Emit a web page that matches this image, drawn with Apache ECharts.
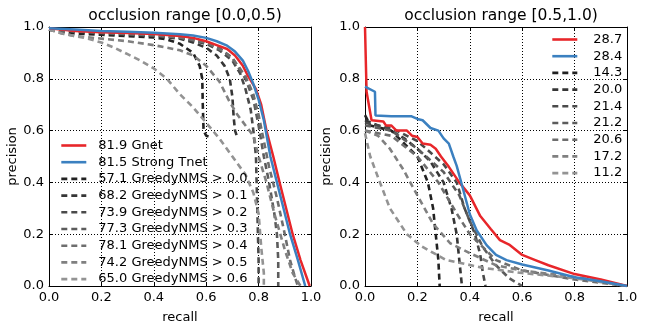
<!DOCTYPE html>
<html>
<head>
<meta charset="utf-8">
<script src="https://cdn.jsdelivr.net/npm/echarts@6/dist/echarts.min.js"></script>
<style>
  html, body { margin: 0; padding: 0; background: #fff; }
  #chart { width: 645px; height: 329px; }
</style>
</head>
<body>
<div id="chart"></div>
<script>
// tick labels shared by both panels
const ticks = [0.0, 0.2, 0.4, 0.6, 0.8, 1.0];
const titles = ["occlusion range [0.0,0.5)", "occlusion range [0.5,1.0)"];

// left panel: occlusion [0.0,0.5)  -> [recall, precision]
const leftNames = ["81.9 Gnet", "81.5 Strong Tnet", "57.1 GreedyNMS > 0.0", "68.2 GreedyNMS > 0.1",
  "73.9 GreedyNMS > 0.2", "77.3 GreedyNMS > 0.3", "78.1 GreedyNMS > 0.4", "74.2 GreedyNMS > 0.5",
  "65.0 GreedyNMS > 0.6"];
const leftGnet = [[0, 0.995], [0.1, 0.985], [0.2, 0.98], [0.3, 0.977], [0.4, 0.973], [0.5, 0.965],
  [0.55, 0.958], [0.6, 0.945], [0.64, 0.93], [0.68, 0.915], [0.71, 0.89], [0.74, 0.85], [0.76, 0.81],
  [0.79, 0.76], [0.81, 0.7], [0.83, 0.6], [0.856, 0.5], [0.88, 0.4], [0.905, 0.3], [0.93, 0.2],
  [0.96, 0.1], [0.995, 0]];
const leftTnet = [[0, 0.995], [0.1, 0.99], [0.2, 0.985], [0.3, 0.982], [0.4, 0.978], [0.5, 0.972],
  [0.55, 0.967], [0.6, 0.958], [0.64, 0.945], [0.68, 0.928], [0.71, 0.905], [0.74, 0.87], [0.76, 0.83],
  [0.78, 0.78], [0.8, 0.72], [0.82, 0.64], [0.845, 0.5], [0.87, 0.4], [0.895, 0.3], [0.92, 0.2],
  [0.95, 0.1], [0.978, 0]];
const leftG00 = [[0, 0.99], [0.1, 0.975], [0.2, 0.97], [0.3, 0.965], [0.4, 0.96], [0.45, 0.952],
  [0.5, 0.935], [0.55, 0.9], [0.575, 0.85], [0.585, 0.8], [0.587, 0.7], [0.59, 0.6], [0.6, 0.58],
  [0.615, 0.575]];
const leftG01 = [[0, 0.99], [0.2, 0.975], [0.4, 0.965], [0.5, 0.955], [0.55, 0.94], [0.6, 0.92],
  [0.64, 0.89], [0.67, 0.85], [0.69, 0.8], [0.7, 0.73], [0.705, 0.65], [0.71, 0.6], [0.72, 0.57]];
const leftG02 = [[0, 0.99], [0.2, 0.978], [0.4, 0.968], [0.5, 0.958], [0.6, 0.935], [0.65, 0.91],
  [0.7, 0.87], [0.73, 0.82], [0.75, 0.76], [0.77, 0.68], [0.78, 0.6], [0.79, 0.5], [0.795, 0.3],
  [0.8, 0.1], [0.8, 0]];
const leftG03 = [[0, 0.99], [0.2, 0.978], [0.4, 0.968], [0.5, 0.96], [0.6, 0.94], [0.65, 0.92],
  [0.7, 0.88], [0.75, 0.8], [0.78, 0.72], [0.8, 0.62], [0.82, 0.5], [0.84, 0.4], [0.86, 0.28],
  [0.87, 0.2], [0.875, 0.1], [0.875, 0]];
const leftG04 = [[0, 0.99], [0.2, 0.978], [0.4, 0.968], [0.5, 0.96], [0.6, 0.94], [0.66, 0.91],
  [0.7, 0.88], [0.75, 0.81], [0.78, 0.74], [0.8, 0.66], [0.82, 0.56], [0.84, 0.46], [0.87, 0.34],
  [0.9, 0.2], [0.92, 0.1], [0.94, 0.03], [0.95, 0]];
const leftG05 = [[0, 0.99], [0.05, 0.975], [0.1, 0.965], [0.2, 0.955], [0.3, 0.945], [0.4, 0.93],
  [0.5, 0.91], [0.55, 0.89], [0.6, 0.85], [0.65, 0.79], [0.69, 0.71], [0.72, 0.66], [0.75, 0.62],
  [0.78, 0.58], [0.8, 0.5], [0.83, 0.4], [0.86, 0.28], [0.9, 0.14], [0.93, 0.05], [0.96, 0]];
const leftG06 = [[0, 0.99], [0.05, 0.975], [0.1, 0.965], [0.15, 0.955], [0.2, 0.94], [0.25, 0.92],
  [0.3, 0.895], [0.35, 0.87], [0.4, 0.84], [0.45, 0.8], [0.5, 0.74], [0.55, 0.69], [0.6, 0.63],
  [0.65, 0.57], [0.7, 0.5], [0.75, 0.43], [0.78, 0.36], [0.8, 0.28], [0.81, 0.15], [0.82, 0.05],
  [0.82, 0]];

// right panel: occlusion [0.5,1.0)
const rightNames = ["28.7", "28.4", "14.3", "20.0", "21.4", "21.2", "20.6", "17.2", "11.2"];
const rightGnet = [[0, 1.0], [0.006, 0.75], [0.025, 0.64], [0.07, 0.635], [0.08, 0.62], [0.1, 0.62],
  [0.12, 0.6], [0.16, 0.6], [0.18, 0.58], [0.2, 0.575], [0.22, 0.55], [0.25, 0.545], [0.27, 0.53],
  [0.29, 0.5], [0.32, 0.46], [0.36, 0.4], [0.4, 0.35], [0.44, 0.27], [0.48, 0.22], [0.515, 0.177],
  [0.55, 0.16], [0.6, 0.12], [0.65, 0.1], [0.7, 0.08], [0.8, 0.046], [0.9, 0.025], [1.0, 0]];
const rightTnet = [[0, 0.77], [0.038, 0.75], [0.04, 0.658], [0.1, 0.655], [0.178, 0.655], [0.2, 0.645],
  [0.22, 0.64], [0.25, 0.61], [0.28, 0.6], [0.3, 0.57], [0.32, 0.55], [0.337, 0.5], [0.35, 0.464],
  [0.37, 0.39], [0.4, 0.277], [0.426, 0.215], [0.464, 0.158], [0.5, 0.12], [0.54, 0.1], [0.6, 0.083],
  [0.7, 0.06], [0.8, 0.034], [0.9, 0.018], [1.0, 0]];
const rightG00 = [[0, 0.66], [0.02, 0.62], [0.1, 0.6], [0.15, 0.55], [0.2, 0.5], [0.24, 0.4],
  [0.26, 0.3], [0.27, 0.2], [0.28, 0.1], [0.285, 0]];
const rightG01 = [[0, 0.64], [0.05, 0.62], [0.1, 0.6], [0.15, 0.57], [0.2, 0.53], [0.25, 0.48],
  [0.3, 0.4], [0.33, 0.3], [0.35, 0.2], [0.36, 0.1], [0.37, 0]];
const rightG02 = [[0, 0.63], [0.1, 0.61], [0.2, 0.56], [0.3, 0.47], [0.35, 0.4], [0.38, 0.3],
  [0.42, 0.2], [0.44, 0.12], [0.45, 0.05], [0.46, 0]];
const rightG03 = [[0, 0.62], [0.1, 0.6], [0.2, 0.53], [0.3, 0.44], [0.36, 0.35], [0.4, 0.25],
  [0.45, 0.15], [0.5, 0.08], [0.55, 0.03], [0.6, 0]];
const rightG04 = [[0, 0.6], [0.1, 0.58], [0.2, 0.5], [0.28, 0.4], [0.35, 0.28], [0.4, 0.2],
  [0.5, 0.1], [0.6, 0.06], [0.8, 0.025], [1.0, 0]];
const rightG05 = [[0, 0.6], [0.05, 0.58], [0.095, 0.53], [0.146, 0.45], [0.2, 0.35], [0.26, 0.24],
  [0.325, 0.165], [0.4, 0.127], [0.5, 0.08], [0.6, 0.06], [0.8, 0.035], [1.0, 0]];
const rightG06 = [[0, 0.59], [0.02, 0.5], [0.057, 0.4], [0.095, 0.3], [0.16, 0.2], [0.216, 0.153],
  [0.31, 0.1], [0.36, 0.09], [0.45, 0.07], [0.6, 0.05], [0.8, 0.03], [1.0, 0]];

const leftData = [leftGnet, leftTnet, leftG00, leftG01, leftG02, leftG03, leftG04, leftG05, leftG06];
const rightData = [rightGnet, rightTnet, rightG00, rightG01, rightG02, rightG03, rightG04, rightG05, rightG06];
const colors = ["#e8262a", "#3b80c0", "#222222", "#363636", "#4a4a4a", "#5c5c5c", "#6e6e6e", "#808080", "#939393"];

const font = "DejaVu Sans";
const grids = [
  { left: 49, top: 27, width: 262, height: 267 },
  { left: 365, top: 27, width: 262, height: 267 }
];

function axisPair(gridIndex, isX, name, gap) {
  const base = {
    type: "value", gridIndex, min: 0, max: 1, interval: 0.2,
    axisLine: { show: true, onZero: false, lineStyle: { color: "#000", width: 1 } },
    axisTick: { show: true, inside: true, length: 4, lineStyle: { color: "#000" } }
  };
  const main = {
    ...base,
    position: isX ? "bottom" : "left",
    name, nameLocation: "middle", nameGap: gap,
    nameTextStyle: { color: "#000", fontSize: 13, fontFamily: font },
    axisLabel: {
      color: "#000", fontSize: 13, fontFamily: font, margin: 5,
      formatter: (v) => ticks.includes(+v.toFixed(1)) ? v.toFixed(1) : ""
    },
    splitLine: { show: true, lineStyle: { color: "#000", type: [1, 2], width: 1 } }
  };
  const mirror = {
    ...base,
    position: isX ? "top" : "right",
    axisLabel: { show: false },
    splitLine: { show: false }
  };
  return [main, mirror];
}

const xAxis = [...axisPair(0, true, "recall", 25), ...axisPair(1, true, "recall", 25)];
const yAxis = [...axisPair(0, false, "precision", 27), ...axisPair(1, false, "precision", 32)];

function makeSeries(names, data, axisIndex) {
  return names.map((name, i) => ({
    name, type: "line", data: data[i],
    xAxisIndex: axisIndex, yAxisIndex: axisIndex,
    symbol: "none", showSymbol: false, animation: false,
    z: i < 2 ? 3 : 2,
    lineStyle: { color: colors[i], width: i < 2 ? 2.5 : 2.6, type: i < 2 ? "solid" : [6, 4] },
    itemStyle: { color: colors[i] }
  }));
}

const legendBase = {
  orient: "vertical", padding: 0, itemWidth: 25, itemHeight: 14, itemGap: 3.7,
  itemStyle: { opacity: 0 },
  lineStyle: { width: 2.6 }
};

const chart = echarts.init(document.getElementById("chart"));
chart.setOption({
  animation: false,
  title: [
    { text: titles[0], left: 180, top: 3, textAlign: "center",
      textStyle: { fontSize: 15.5, fontWeight: "normal", color: "#000", fontFamily: font } },
    { text: titles[1], left: 496, top: 3, textAlign: "center",
      textStyle: { fontSize: 15.5, fontWeight: "normal", color: "#000", fontFamily: font } }
  ],
  grid: grids,
  xAxis, yAxis,
  legend: [
    { ...legendBase, data: leftNames, left: 60, top: 139,
      textStyle: { fontSize: 13, color: "#000", fontFamily: font, padding: [0, 0, 0, 7] } },
    { ...legendBase, data: rightNames, left: 551, top: 33,
      textStyle: { fontSize: 13, color: "#000", fontFamily: font, padding: [0, 0, 0, 11] } }
  ],
  series: [...makeSeries(leftNames, leftData, 0), ...makeSeries(rightNames, rightData, 2)]
});
</script>
</body>
</html>
